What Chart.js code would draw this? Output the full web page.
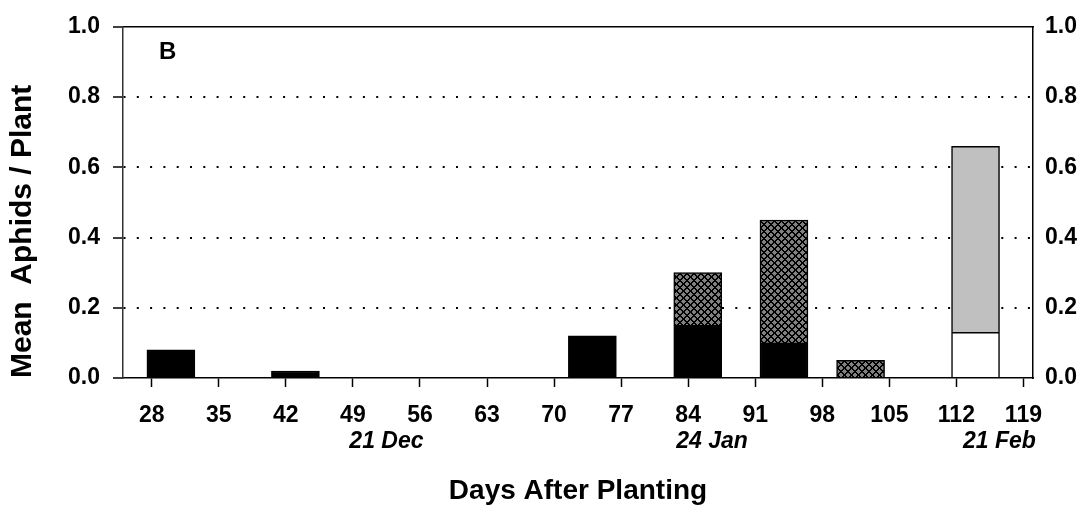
<!DOCTYPE html>
<html>
<head>
<meta charset="utf-8">
<script src="https://cdn.jsdelivr.net/npm/chart.js@4.4.1/dist/chart.umd.min.js"></script>
<style>
  html, body { margin: 0; padding: 0; background: #fff; }
  #wrap { width: 1091px; height: 505px; position: relative; }
</style>
</head>
<body>
<div id="wrap"><canvas id="c"></canvas></div>
<script>
// Sampling days (days after planting) and mean aphids per plant for each group
const sampleDays = [30, 43, 74, 85, 94, 102, 114];
const blackBars  = [0.08, 0.02, 0.12, 0.15, 0.10, null, null];
const hatchBars  = [null, null, null, 0.15, 0.35, 0.05, null];
const whiteBars  = [null, null, null, null, null, null, 0.13];
const grayBars   = [null, null, null, null, null, null, 0.53];

// Axis ticks
const xTickDays = [28, 35, 42, 49, 56, 63, 70, 77, 84, 91, 98, 105, 112, 119];
const yTickVals = [0, 0.2, 0.4, 0.6, 0.8, 1.0];

// Calendar dates written under the day axis
const dateLabels    = ['21 Dec', '24 Jan', '21 Feb'];
const dateLabelDays = [52.5, 86.5, 116.5];

const panelLetter = 'B';

const FONT = "'Liberation Sans', Arial, Helvetica, sans-serif";

function toPoints(vals) {
  return sampleDays
    .map((d, i) => ({ x: d, y: vals[i] }))
    .filter(p => p.y !== null);
}

// Cross-hatched fill: gray diamonds between black diagonal lines
function makeHatch(ctx) {
  const n = 7;
  const tile = document.createElement('canvas');
  tile.width = n; tile.height = n;
  const g = tile.getContext('2d');
  const img = g.createImageData(n, n);
  for (let y = 0; y < n; y++) {
    for (let x = 0; x < n; x++) {
      const on = ((x + y) % n) < 2 || (((x - y) % n + n) % n) < 2;
      const v = on ? 0 : 128;
      const k = (y * n + x) * 4;
      img.data[k] = v; img.data[k + 1] = v; img.data[k + 2] = v; img.data[k + 3] = 255;
    }
  }
  g.putImageData(img, 0, 0);
  return ctx.createPattern(tile, 'repeat');
}

const canvas = document.getElementById('c');
const ctx2d = canvas.getContext('2d');
const hatch = makeHatch(ctx2d);

const barCommon = {
  barThickness: 48,
  borderColor: '#000',
  borderWidth: 1.5,
  borderSkipped: 'start'
};

const annotations = {
  id: 'annotations',
  afterDraw(chart) {
    const { ctx, chartArea, scales } = chart;
    ctx.save();
    ctx.fillStyle = '#000';
    // panel letter
    ctx.font = `bold 24px ${FONT}`;
    ctx.textAlign = 'left';
    ctx.textBaseline = 'alphabetic';
    ctx.fillText(panelLetter, chartArea.left + 36, chartArea.top + 32);
    // calendar dates
    ctx.font = `italic bold 23px ${FONT}`;
    ctx.textAlign = 'center';
    dateLabels.forEach((txt, i) => {
      const x = scales.x.getPixelForValue(dateLabelDays[i]);
      ctx.fillText(txt, x, chartArea.bottom + 70);
    });
    ctx.restore();
  }
};

new Chart(canvas, {
  type: 'bar',
  data: {
    datasets: [
      Object.assign({ label: 'black', data: toPoints(blackBars), backgroundColor: '#000' }, barCommon),
      Object.assign({ label: 'hatch', data: toPoints(hatchBars), backgroundColor: hatch }, barCommon),
      Object.assign({ label: 'white', data: toPoints(whiteBars), backgroundColor: '#fff' }, barCommon),
      Object.assign({ label: 'gray',  data: toPoints(grayBars),  backgroundColor: '#c0c0c0' }, barCommon)
    ]
  },
  options: {
    responsive: true,
    maintainAspectRatio: false,
    animation: false,
    events: [],
    layout: { padding: { top: 20, left: 0, right: 0, bottom: 0 } },
    plugins: { legend: { display: false }, tooltip: { enabled: false } },
    scales: {
      x: {
        type: 'linear',
        position: 'bottom',
        min: 25, max: 120,
        offset: false,
        stacked: true,
        afterBuildTicks: s => { s.ticks = xTickDays.map(v => ({ value: v })); },
        afterFit: s => { s.height = 127; },
        grid: {
          offset: false,
          drawOnChartArea: false,
          drawTicks: true,
          tickLength: 9,
          tickColor: '#000',
          tickWidth: 1.5,
          tickBorderDash: []
        },
        border: { display: true, color: '#000', width: 1.5 },
        ticks: {
          color: '#000',
          padding: 15,
          maxRotation: 0,
          autoSkip: false,
          font: { family: FONT, size: 23, weight: 'bold' },
          callback: v => String(v)
        },
        title: {
          display: true,
          text: 'Days After Planting',
          color: '#000',
          font: { family: FONT, size: 28, weight: 'bold', lineHeight: 1.0 },
          padding: { top: 0, bottom: 0 }
        }
      },
      xTop: {
        type: 'linear',
        position: 'top',
        min: 25, max: 120,
        offset: false,
        afterFit: s => { s.height = 0; },
        grid: { display: false, offset: false },
        ticks: { display: false },
        border: { display: true, color: '#000', width: 1.5 }
      },
      y: {
        type: 'linear',
        position: 'left',
        min: 0, max: 1,
        stacked: true,
        afterBuildTicks: s => { s.ticks = yTickVals.map(v => ({ value: v })); },
        afterFit: s => { s.width = 123; },
        grid: {
          color: c => (c.tick && (c.tick.value === 0 || c.tick.value === 1)) ? 'rgba(0,0,0,0)' : '#000',
          lineWidth: 2,
          drawTicks: true,
          tickLength: 10,
          tickColor: '#000',
          tickWidth: 1.5,
          tickBorderDash: []
        },
        border: { display: true, color: '#333', width: 1.5, dash: [2, 11.3] },
        ticks: {
          color: '#000',
          padding: 13,
          font: { family: FONT, size: 23, weight: 'bold' },
          callback: v => Number(v).toFixed(1)
        },
        title: {
          display: true,
          text: 'Mean  Aphids / Plant',
          align: 'start',
          color: '#000',
          font: { family: FONT, size: 30, weight: 'bold' },
          padding: { top: 5, bottom: 0 }
        }
      },
      yRight: {
        type: 'linear',
        position: 'right',
        min: 0, max: 1,
        afterBuildTicks: s => { s.ticks = yTickVals.map(v => ({ value: v })); },
        afterFit: s => { s.width = 58; },
        grid: { display: false, drawTicks: false },
        border: { display: true, color: '#000', width: 1.5 },
        ticks: {
          color: '#000',
          padding: 12,
          font: { family: FONT, size: 23, weight: 'bold' },
          callback: v => Number(v).toFixed(1)
        }
      }
    }
  },
  plugins: [annotations]
});
</script>
</body>
</html>
